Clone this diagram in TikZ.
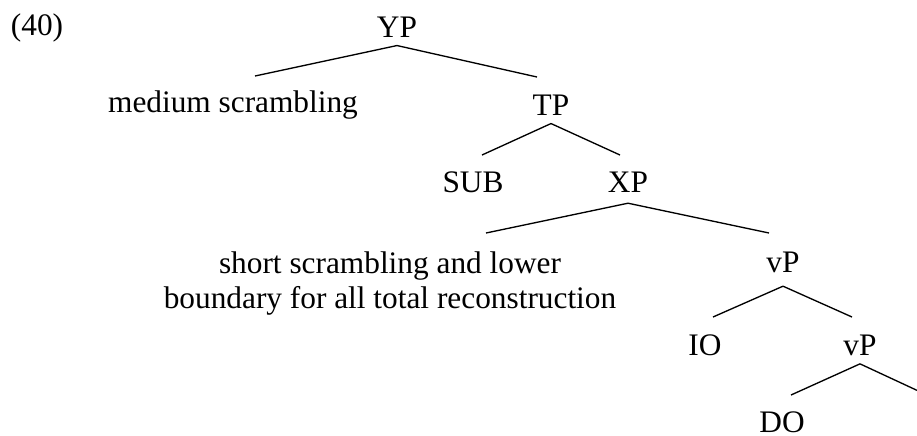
\documentclass[tikz,border=0pt]{standalone}
\usepackage{fontspec}
\setmainfont{Liberation Serif}
\usepackage{tikz}
\usetikzlibrary{positioning}

\begin{document}
\begin{tikzpicture}[
    x=0.375pt, y=-0.375pt,
    lbl/.style={anchor=base, inner sep=0pt, font=\fontsize{11.75}{13.1}\selectfont},
    cat/.style={lbl, inner xsep=0pt, inner ysep=3pt},
    br/.style={line width=0.5pt}
]
\useasboundingbox (0,0) rectangle (917,435);
% example number
\node[lbl] (num) at (37,35) {(40)};
% labels
\node[cat] (YP) at (397,37) {YP};
\node[lbl] (med) at (233,112) {medium scrambling};
\node[cat] (TP) at (551,115) {TP};
\node[lbl] (SUB) at (473,192) {SUB};
\node[cat,inner ysep=4pt] (XP) at (628,192) {XP};
\node[lbl, align=center] (short) at (390,308) {short scrambling and lower\\boundary for all total reconstruction};
\node[cat,inner ysep=5pt] (vP) at (783,272) {vP};
\node[lbl] (IO) at (705,355) {IO};
\node[cat] (vPb) at (860,355) {vP};
\node[lbl] (DO) at (782,432) {DO};
% branch ends
\coordinate (med-t) at (255,76);
\coordinate (TP-t) at (537,77);
\coordinate (SUB-t) at (482,155);
\coordinate (XP-t) at (620,155);
\coordinate (short-t) at (486,233);
\coordinate (vP-t) at (769,233);
\coordinate (IO-t) at (713,317);
\coordinate (vPb-t) at (852,317);
\coordinate (DO-t) at (791,395);
\coordinate (end) at (927,395);
% branches
\foreach \p/\c in {YP/med-t, YP/TP-t, TP/SUB-t, TP/XP-t, XP/short-t, XP/vP-t, vP/IO-t, vP/vPb-t, vPb/DO-t, vPb/end} {
    \draw[br] (\p.south) -- (\c);
}
\end{tikzpicture}
\end{document}
